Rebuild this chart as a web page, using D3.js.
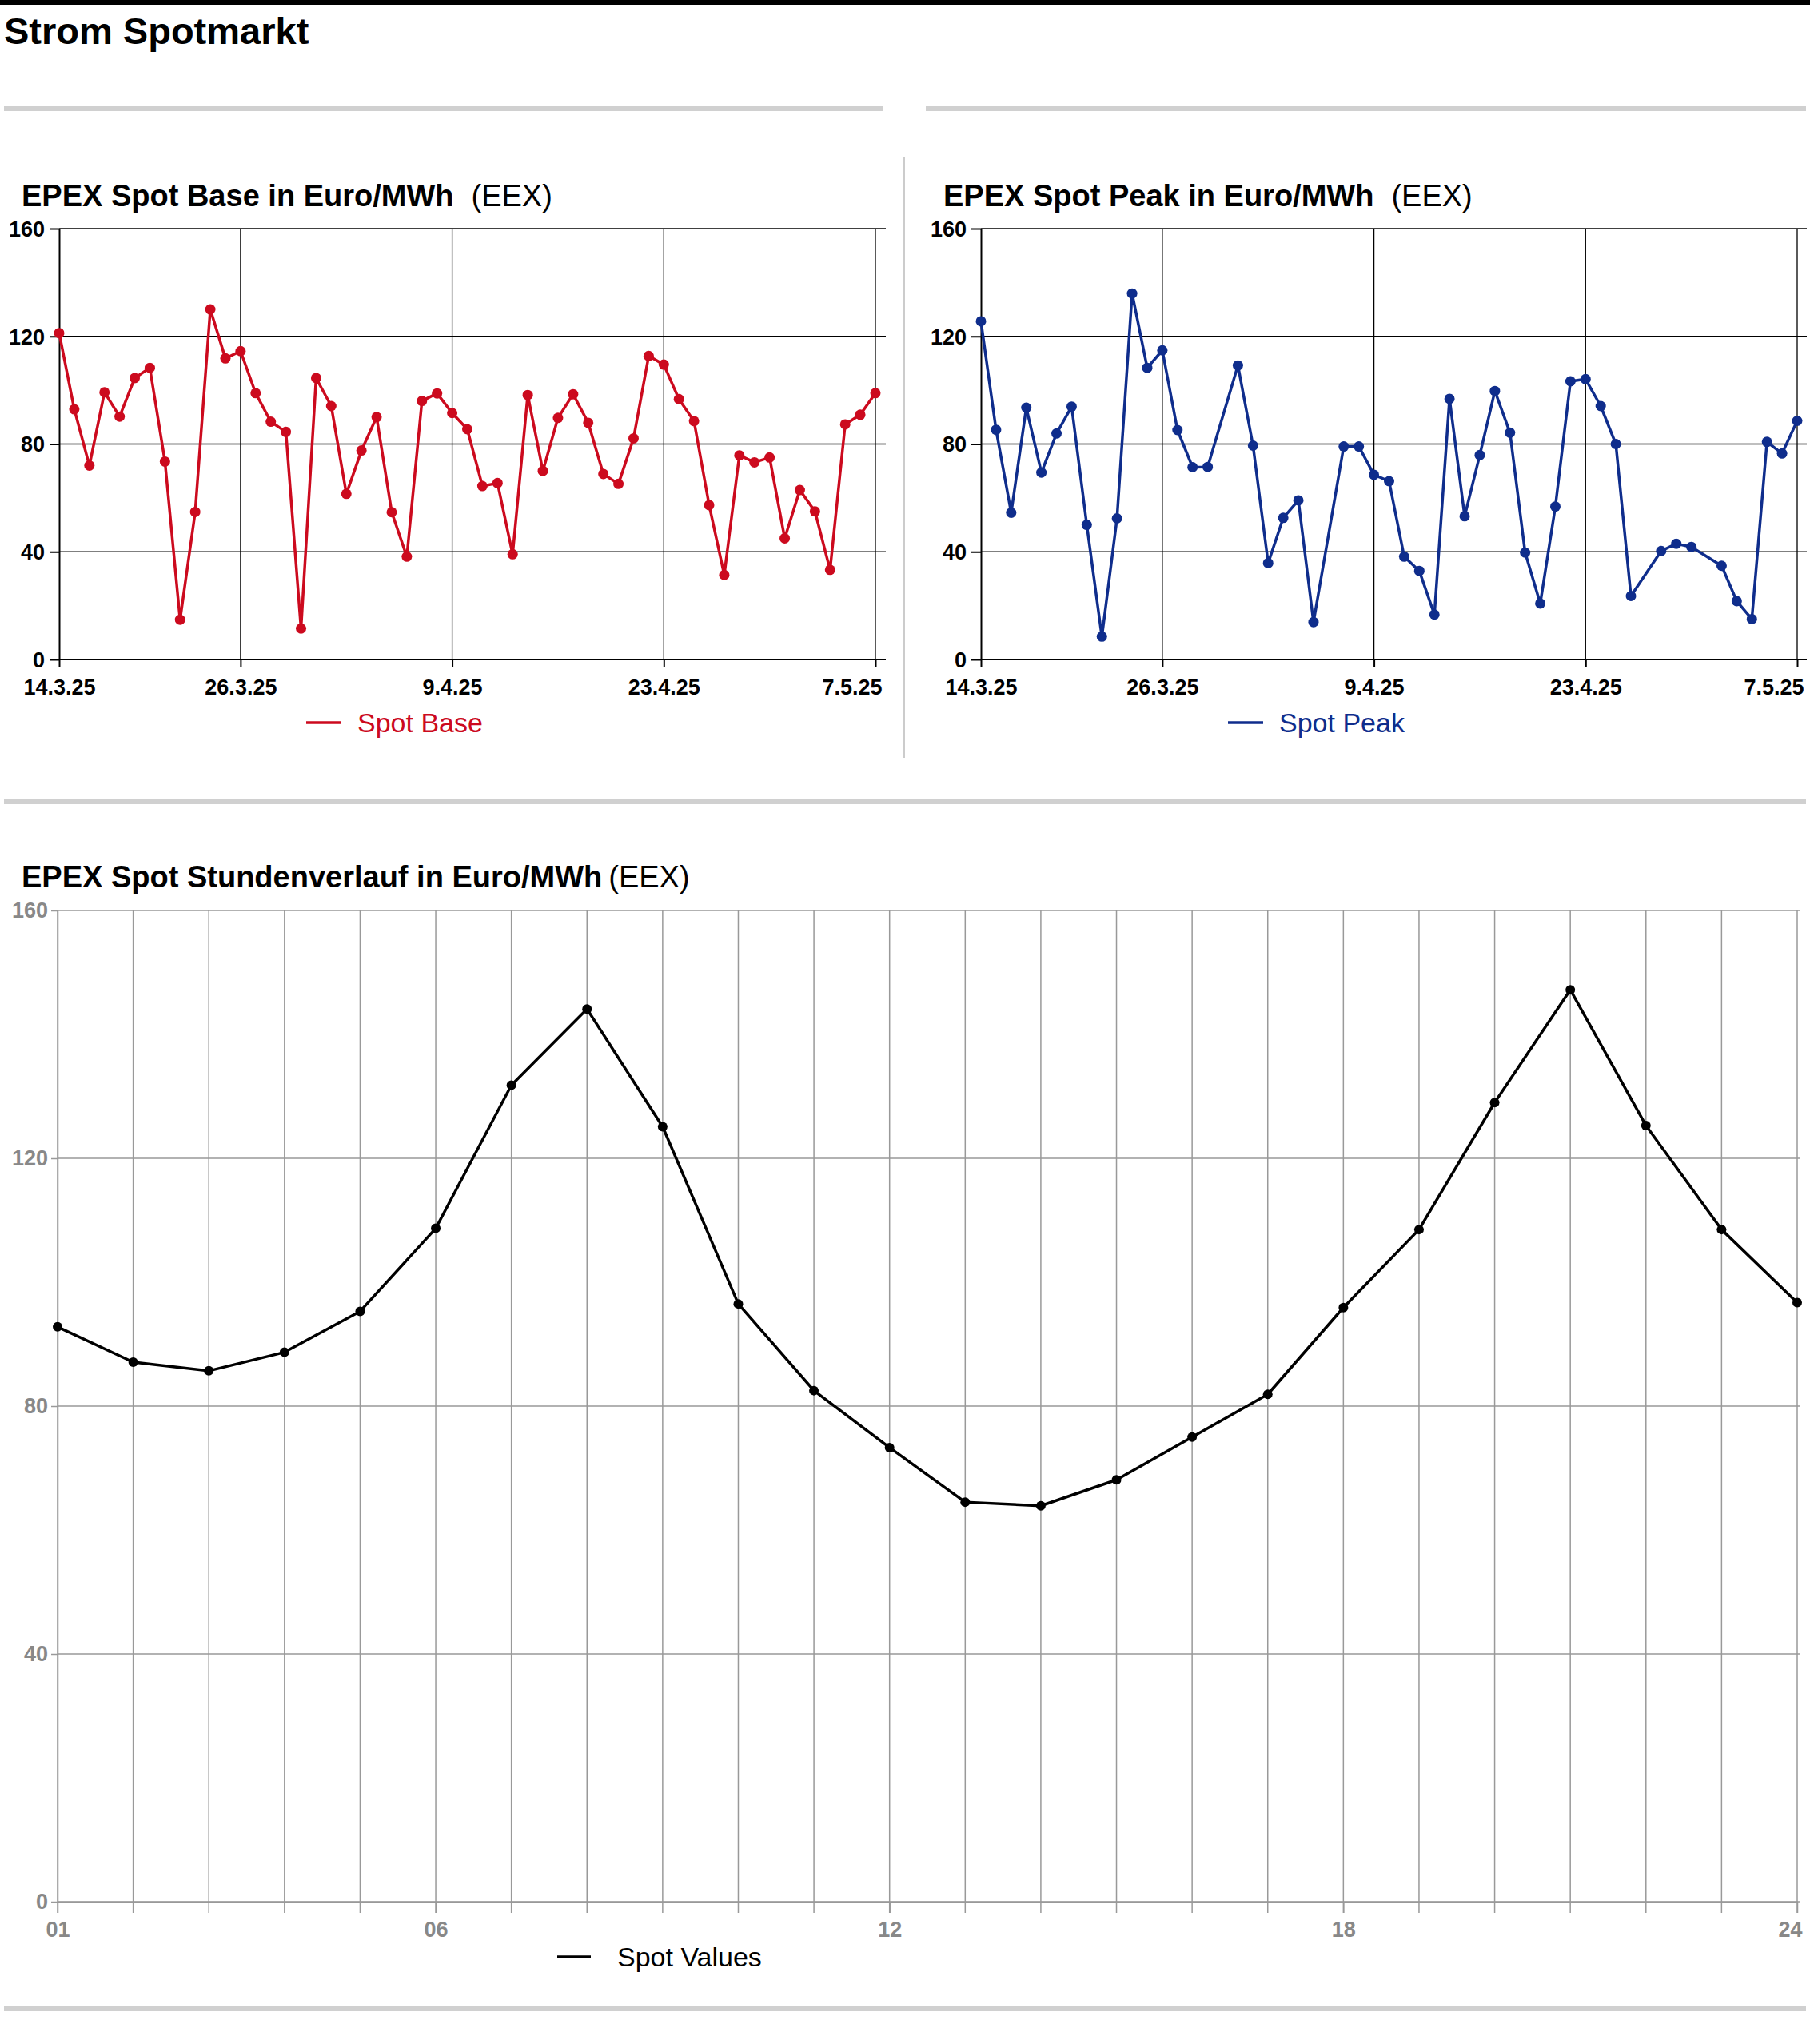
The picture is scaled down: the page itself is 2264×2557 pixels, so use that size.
<!DOCTYPE html>
<html>
<head>
<meta charset="utf-8">
<script src="https://cdn.jsdelivr.net/npm/d3@7"></script>
<style>
  body { margin: 0; background: #fff; }
  svg text { font-family: "Liberation Sans", Arial, sans-serif; }
  .narrow { font-family: "Liberation Sans Narrow", "Arial Narrow", "Liberation Sans", sans-serif; }
</style>
</head>
<body>
<div id="chart"></div>
<script>
var svgWidth = 2264;
var svgHeight = 2557;

// daily data, day offset from 14.3.25
var baseDays = d3.range(0, 55);
var baseValues = [121.2, 92.9, 72, 99.2, 90.2, 104.5, 108.3, 73.5, 14.8, 54.8, 130, 111.8, 114.5,
  98.9, 88.3, 84.5, 11.5, 104.5, 94.1, 61.5, 77.6, 90, 54.7, 38.2, 96, 98.8, 91.5, 85.5, 64.4,
  65.5, 39.1, 98.2, 70, 89.7, 98.5, 87.9, 68.9, 65.2, 82.1, 112.7, 109.5, 96.7, 88.5, 57.3,
  31.4, 75.8, 73.2, 75, 45, 62.9, 55, 33.3, 87.3, 90.9, 98.9];

var peakDays = [0, 1, 2, 3, 4, 5, 6, 7, 8, 9, 10, 11, 12, 13, 14, 15, 17, 18, 19, 20, 21, 22, 24, 25,
  26, 27, 28, 29, 30, 31, 32, 33, 34, 35, 36, 37, 38, 39, 40, 41, 42, 43, 45, 46, 47, 49, 50, 51,
  52, 53, 54];
var peakValues = [125.6, 85.3, 54.5, 93.5, 69.4, 83.9, 93.9, 50, 8.5, 52.4, 135.9, 108.3, 114.8,
  85.2, 71.4, 71.5, 109.2, 79.4, 35.8, 52.6, 59.1, 13.9, 79.1, 79.1, 68.6, 66.2, 38.2, 32.9, 16.7,
  96.8, 53.2, 75.9, 99.7, 84.2, 39.7, 20.8, 56.8, 103.3, 104.1, 94.1, 80, 23.6, 40.3, 43, 41.8,
  34.8, 21.7, 15, 80.8, 76.5, 88.6];

var hours = d3.range(1, 25);
var hourValues = [92.8, 87.1, 85.7, 88.7, 95.3, 108.7, 131.8, 144.1, 125.1, 96.5, 82.5, 73.3,
  64.5, 63.9, 68.1, 75, 81.9, 95.9, 108.5, 129, 147.2, 125.3, 108.5, 96.7];

var dateTickDays = [0, 12, 26, 40, 54];
var dateTickLabels = ["14.3.25", "26.3.25", "9.4.25", "23.4.25", "7.5.25"];
var yTicks = [0, 40, 80, 120, 160];
var hourTickLabels = { 1: "01", 6: "06", 12: "12", 18: "18", 24: "24" };

var svg = d3.select("#chart").append("svg").attr("width", svgWidth).attr("height", svgHeight);

// header
svg.append("rect").attr("x", 0).attr("y", 0).attr("width", svgWidth).attr("height", 6).attr("fill", "#000");
svg.append("text").attr("x", 5).attr("y", 55).attr("font-size", 47).attr("font-weight", "bold").text("Strom Spotmarkt");

function sep(x1, x2, y) {
  svg.append("rect").attr("x", x1).attr("y", y - 3).attr("width", x2 - x1).attr("height", 6).attr("fill", "#d0d0d0");
}
sep(5, 1105, 136);
sep(1158, 2259, 136);
sep(5, 2259, 1003);
sep(5, 2259, 2513);
svg.append("line").attr("x1", 1131).attr("x2", 1131).attr("y1", 196).attr("y2", 948)
  .attr("stroke", "#ccc").attr("stroke-width", 2);

function subtitle(x, y, bold, normal, gap) {
  var t = svg.append("text").attr("x", x).attr("y", y).attr("font-size", 38);
  t.append("tspan").attr("font-weight", "bold").text(bold);
  t.append("tspan").attr("dx", gap).text(normal);
}

// ----------------------- daily charts
function dailyChart(x0, x1, xRight, days, values, color, title, legend, lx) {
  var x = d3.scaleLinear().domain([0, 54]).range([x0, x1]);
  var y = d3.scaleLinear().domain([0, 160]).range([825, 286]);
  var g = svg.append("g");

  subtitle(x0 - 47, 258, title, "(EEX)", 22);

  // grid
  g.selectAll(".hg").data(yTicks.slice(1)).enter().append("line")
    .attr("x1", x0).attr("x2", xRight).attr("y1", d => y(d)).attr("y2", d => y(d))
    .attr("stroke", "#000").attr("stroke-width", 1.3);
  g.selectAll(".vg").data(dateTickDays.slice(1)).enter().append("line")
    .attr("x1", d => x(d)).attr("x2", d => x(d)).attr("y1", y(160)).attr("y2", y(0))
    .attr("stroke", "#000").attr("stroke-width", 1.3);

  var yAxis = g.append("g").attr("transform", `translate(${x0},0)`)
    .call(d3.axisLeft(y).tickValues(yTicks).tickSize(12).tickSizeOuter(0).tickPadding(6));
  var xAxis = g.append("g").attr("transform", `translate(0,${y(0)})`)
    .call(d3.axisBottom(x).tickValues(dateTickDays).tickFormat((d, i) => dateTickLabels[i])
      .tickSize(10).tickSizeOuter(0).tickPadding(10));
  xAxis.select(".domain").attr("d", `M${x0},0H${xRight}`);
  [xAxis, yAxis].forEach(a => {
    a.selectAll("path, line").attr("stroke", "#000").attr("stroke-width", 2);
    a.selectAll("text").attr("class", "narrow").attr("font-size", 27).attr("font-weight", "bold").attr("fill", "#000");
  });
  xAxis.selectAll("text").attr("dy", "0.9em");
  xAxis.selectAll(".tick:last-of-type text").attr("text-anchor", "end").attr("dx", 8);
  yAxis.selectAll("text").attr("dy", "0.35em");

  var line = d3.line().x((d, i) => x(days[i])).y(d => y(d));
  g.append("path").datum(values).attr("d", line).attr("fill", "none")
    .attr("stroke", color).attr("stroke-width", 3.5).attr("stroke-linejoin", "round");
  g.selectAll(".pt").data(values).enter().append("circle")
    .attr("cx", (d, i) => x(days[i])).attr("cy", d => y(d)).attr("r", 6.5).attr("fill", color);

  g.append("line").attr("x1", lx).attr("x2", lx + 44).attr("y1", 904).attr("y2", 904)
    .attr("stroke", color).attr("stroke-width", 3.5);
  g.append("text").attr("class", "narrow").attr("x", lx + 64).attr("y", 916).attr("font-size", 34)
    .attr("fill", color).text(legend);
}

dailyChart(74, 1095, 1108, baseDays, baseValues, "#cc0a1e", "EPEX Spot Base in Euro/MWh", "Spot Base", 383);
dailyChart(1227, 2248, 2260, peakDays, peakValues, "#0f2d8c", "EPEX Spot Peak in Euro/MWh", "Spot Peak", 1536);

// ----------------------- hourly chart
var hx = d3.scaleLinear().domain([1, 24]).range([72, 2248]);
var hy = d3.scaleLinear().domain([0, 160]).range([2379, 1139]);
var hg = svg.append("g");

subtitle(27, 1110, "EPEX Spot Stundenverlauf in Euro/MWh", "(EEX)", 8);

hg.selectAll(".hh").data(yTicks).enter().append("line")
  .attr("x1", 72).attr("x2", 2252).attr("y1", d => hy(d)).attr("y2", d => hy(d))
  .attr("stroke", "#999").attr("stroke-width", 1.5);
hg.selectAll(".hv").data(hours).enter().append("line")
  .attr("x1", d => hx(d)).attr("x2", d => hx(d)).attr("y1", hy(160)).attr("y2", hy(0) + 14)
  .attr("stroke", "#999").attr("stroke-width", 1.5);

var hyAxis = hg.append("g").attr("transform", "translate(72,0)")
  .call(d3.axisLeft(hy).tickValues(yTicks).tickSize(8).tickSizeOuter(0).tickPadding(4));
var hxAxis = hg.append("g").attr("transform", `translate(0,${hy(0)})`)
  .call(d3.axisBottom(hx).tickValues([1, 6, 12, 18, 24]).tickFormat(d => hourTickLabels[d])
    .tickSize(14).tickSizeOuter(0).tickPadding(10));
[hxAxis, hyAxis].forEach(a => {
  a.selectAll("path, line").attr("stroke", "#999").attr("stroke-width", 1.5);
  a.selectAll("text").attr("class", "narrow").attr("font-size", 27).attr("font-weight", "bold").attr("fill", "#888");
});
hxAxis.selectAll("text").attr("dy", "0.75em");
hxAxis.selectAll(".tick:last-of-type text").attr("text-anchor", "end").attr("dx", 6);

var hline = d3.line().x((d, i) => hx(hours[i])).y(d => hy(d));
hg.append("path").datum(hourValues).attr("d", hline).attr("fill", "none")
  .attr("stroke", "#000").attr("stroke-width", 3.5).attr("stroke-linejoin", "round");
hg.selectAll(".hp").data(hourValues).enter().append("circle")
  .attr("cx", (d, i) => hx(hours[i])).attr("cy", d => hy(d)).attr("r", 6).attr("fill", "#000");

hg.append("line").attr("x1", 697).attr("x2", 739).attr("y1", 2448).attr("y2", 2448)
  .attr("stroke", "#000").attr("stroke-width", 3.5);
hg.append("text").attr("class", "narrow").attr("x", 772).attr("y", 2460).attr("font-size", 34)
  .attr("fill", "#000").text("Spot Values");
</script>
</body>
</html>
